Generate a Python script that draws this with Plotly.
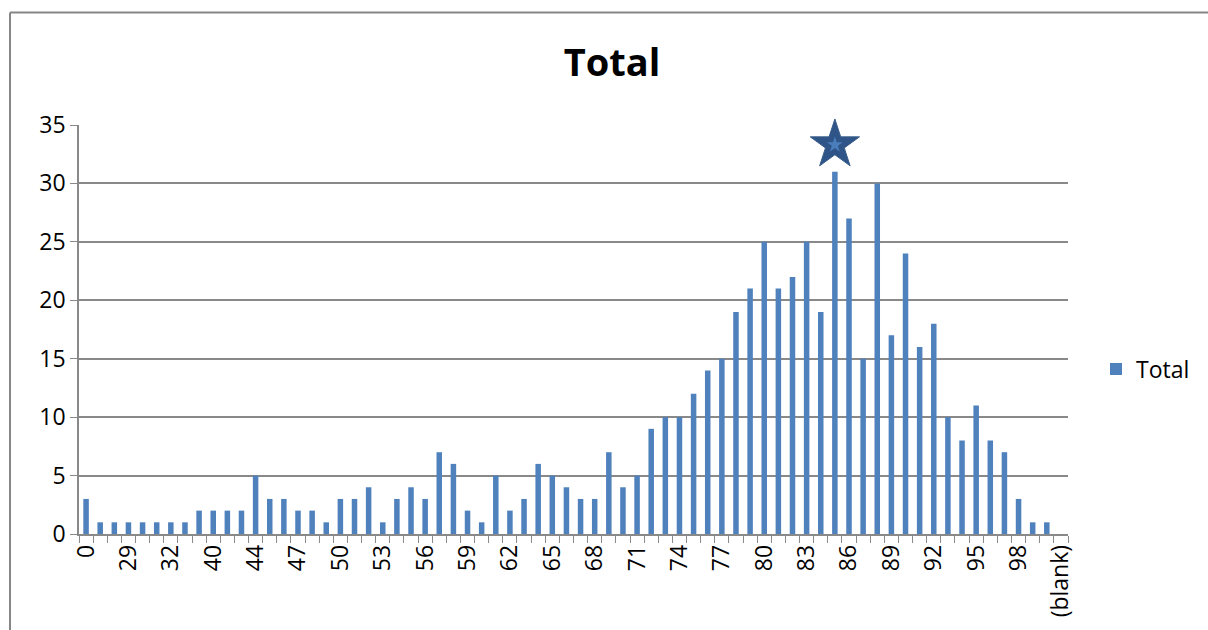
import plotly.graph_objects as go

# Score categories (x axis) and their counts
categories = ["0", "27", "28", "29", "30", "31", "32", "35", "38", "40", "41", "43"] + \
    [str(v) for v in range(44, 101)] + ["(blank)"]
counts = [3, 1, 1, 1, 1, 1, 1, 1, 2, 2, 2, 2,
          5, 3, 3, 2, 2, 1, 3, 3, 4, 1, 3, 4, 3, 7, 6, 2, 1, 5,
          2, 3, 6, 5, 4, 3, 3, 7, 4, 5, 9, 10, 10, 12, 14, 15, 19, 21,
          25, 21, 22, 25, 19, 31, 27, 15, 30, 17, 24, 16, 18, 10, 8, 11,
          8, 7, 3, 1, 1, None]
# Every third category carries a label
tick_labels = [c if i % 3 == 0 else "" for i, c in enumerate(categories)]

# Highlight star above the mode
star_category = "85"
star_value = 33.3

FONT = "Open Sans"
GRID = "#898989"
LABEL_SIZE = 23

# Plot-area geometry in pixels
W, H = 1208, 630
L, R, T, B = 79, 1068, 125, 534


def px_x(p):
    return (p - L) / (R - L)


def px_y(p):
    return (B - p) / (B - T)


fig = go.Figure()
fig.add_trace(go.Bar(
    x=categories, y=counts, name="Total",
    marker=dict(color="#4F81BD", line=dict(width=0)),
))
fig.add_trace(go.Scatter(
    x=[star_category], y=[star_value], mode="markers", showlegend=False,
    hoverinfo="skip", cliponaxis=False,
    marker=dict(symbol="star", size=37, color="#2F5487",
                line=dict(color="#385D8A", width=1)),
))
fig.add_trace(go.Scatter(
    x=[star_category], y=[star_value], mode="markers", showlegend=False,
    hoverinfo="skip", cliponaxis=False,
    marker=dict(symbol="star", size=12, color="#4A7DBB", line=dict(width=0)),
))

# Outer chart border (left and top edges)
fig.add_shape(type="line", xref="paper", yref="paper",
              x0=px_x(10), x1=px_x(10), y0=px_y(12.5), y1=px_y(650),
              line=dict(color="#868686", width=2))
fig.add_shape(type="line", xref="paper", yref="paper",
              x0=px_x(10), x1=px_x(1230), y0=px_y(12.5), y1=px_y(12.5),
              line=dict(color="#868686", width=2))

fig.update_layout(
    width=W, height=H,
    margin=dict(l=L, r=W - R, t=T, b=H - B),
    paper_bgcolor="white", plot_bgcolor="white",
    font=dict(family=FONT, color="black", size=LABEL_SIZE),
    title=dict(text="<b>Total</b>", xref="container", x=612 / W,
               xanchor="center", yref="container", y=1 - 63 / H,
               yanchor="middle",
               font=dict(family=FONT, size=38, color="black")),
    bargap=0.61,
    showlegend=True,
    legend=dict(x=px_x(1096), y=px_y(369), xanchor="left", yanchor="middle",
                itemwidth=30,
                font=dict(family=FONT, size=LABEL_SIZE, color="black"),
                bgcolor="rgba(0,0,0,0)"),
)
fig.update_xaxes(
    type="category", categoryorder="array", categoryarray=categories,
    tickmode="array", tickvals=categories, ticktext=tick_labels,
    tickson="boundaries", ticks="outside", ticklen=7, tickcolor=GRID,
    tickangle=-90, showline=True, linecolor=GRID, linewidth=1.5,
    showgrid=False, tickfont=dict(family=FONT, size=LABEL_SIZE, color="black"),
)
fig.update_yaxes(
    range=[0, 35], tickvals=[0, 5, 10, 15, 20, 25, 30, 35],
    ticks="outside", ticklen=7, tickcolor=GRID,
    showline=True, linecolor=GRID, linewidth=1.5,
    showgrid=True, gridcolor=GRID, gridwidth=1.5, zeroline=False,
    tickfont=dict(family=FONT, size=LABEL_SIZE, color="black"),
)

fig.write_html("out.html")
